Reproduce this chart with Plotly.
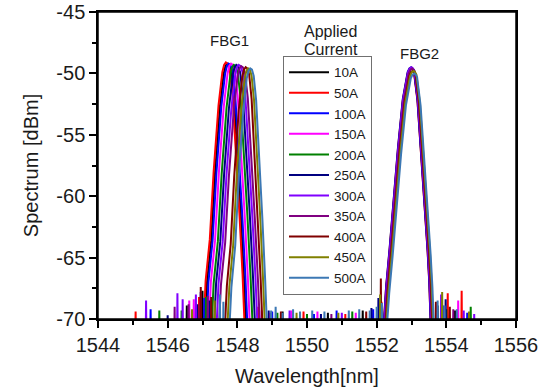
import plotly.graph_objects as go

currents = ["10A", "50A", "100A", "150A", "200A", "250A", "300A", "350A", "400A", "450A", "500A"]
colors = ["#000000", "#FF0000", "#0000FF", "#FF00FF", "#008000", "#000080",
          "#8000FF", "#800080", "#800000", "#808000", "#3C78B4"]

x_tickvals = [1544, 1546, 1548, 1550, 1552, 1554, 1556]
x_ticktext = ["1544", "1546", "1548", "1550", "1552", "1554", "1556"]
y_tickvals = [-70, -65, -60, -55, -50, -45]
y_ticktext = ["-70", "-65", "-60", "-55", "-50", "-45"]

# ---- FBG1 reflection peaks (wavelength nm, power dBm) ----
fbg1_wl_10A = [1547.05, 1547.13, 1547.25, 1547.36, 1547.50, 1547.61, 1547.66, 1547.71, 1547.76, 1547.82, 1547.90, 1548.00, 1548.10, 1548.19, 1548.27]
fbg1_db_10A = [-72, -67.0, -63.6, -58.1, -52.7, -50.0, -49.4, -49.2, -49.3, -49.8, -51.8, -56.5, -61.5, -66.5, -72]
fbg1_wl_50A = [1547.01, 1547.09, 1547.21, 1547.32, 1547.46, 1547.57, 1547.62, 1547.67, 1547.72, 1547.78, 1547.86, 1547.96, 1548.06, 1548.15, 1548.23]
fbg1_db_50A = [-72, -66.9, -63.5, -58.0, -52.6, -49.9, -49.3, -49.1, -49.2, -49.7, -51.7, -56.4, -61.4, -66.4, -72]
fbg1_wl_100A = [1547.09, 1547.17, 1547.29, 1547.40, 1547.54, 1547.65, 1547.70, 1547.75, 1547.80, 1547.86, 1547.94, 1548.04, 1548.14, 1548.23, 1548.31]
fbg1_db_100A = [-72, -67.0, -63.6, -58.1, -52.7, -50.0, -49.4, -49.2, -49.3, -49.8, -51.8, -56.5, -61.5, -66.5, -72]
fbg1_wl_150A = [1547.16, 1547.24, 1547.36, 1547.47, 1547.61, 1547.72, 1547.77, 1547.82, 1547.87, 1547.93, 1548.01, 1548.11, 1548.21, 1548.30, 1548.38]
fbg1_db_150A = [-72, -67.0, -63.6, -58.1, -52.7, -50.0, -49.4, -49.2, -49.3, -49.8, -51.8, -56.5, -61.5, -66.5, -72]
fbg1_wl_200A = [1547.24, 1547.32, 1547.44, 1547.55, 1547.69, 1547.80, 1547.85, 1547.90, 1547.95, 1548.01, 1548.09, 1548.19, 1548.29, 1548.38, 1548.46]
fbg1_db_200A = [-72, -67.1, -63.7, -58.2, -52.8, -50.1, -49.5, -49.3, -49.4, -49.9, -51.9, -56.6, -61.6, -66.6, -72]
fbg1_wl_250A = [1547.31, 1547.39, 1547.51, 1547.62, 1547.76, 1547.87, 1547.92, 1547.97, 1548.02, 1548.08, 1548.16, 1548.26, 1548.36, 1548.45, 1548.53]
fbg1_db_250A = [-72, -67.1, -63.7, -58.2, -52.8, -50.1, -49.5, -49.3, -49.4, -49.9, -51.9, -56.6, -61.6, -66.6, -72]
fbg1_wl_300A = [1547.38, 1547.46, 1547.58, 1547.69, 1547.83, 1547.94, 1547.99, 1548.04, 1548.09, 1548.15, 1548.23, 1548.33, 1548.43, 1548.52, 1548.60]
fbg1_db_300A = [-72, -67.1, -63.7, -58.2, -52.8, -50.1, -49.5, -49.3, -49.4, -49.9, -51.9, -56.6, -61.6, -66.6, -72]
fbg1_wl_350A = [1547.45, 1547.53, 1547.65, 1547.76, 1547.90, 1548.01, 1548.06, 1548.11, 1548.16, 1548.22, 1548.30, 1548.40, 1548.50, 1548.59, 1548.67]
fbg1_db_350A = [-72, -67.2, -63.8, -58.3, -52.9, -50.2, -49.6, -49.4, -49.5, -50.0, -52.0, -56.7, -61.7, -66.7, -72]
fbg1_wl_400A = [1547.62, 1547.70, 1547.81, 1547.91, 1548.04, 1548.14, 1548.19, 1548.24, 1548.29, 1548.34, 1548.41, 1548.50, 1548.59, 1548.67, 1548.74]
fbg1_db_400A = [-72, -67.3, -63.9, -58.4, -53.0, -50.3, -49.7, -49.5, -49.6, -50.1, -52.1, -56.8, -61.8, -66.8, -72]
fbg1_wl_450A = [1547.69, 1547.77, 1547.88, 1547.98, 1548.11, 1548.21, 1548.26, 1548.31, 1548.36, 1548.41, 1548.48, 1548.57, 1548.66, 1548.74, 1548.81]
fbg1_db_450A = [-72, -67.4, -64.0, -58.5, -53.1, -50.4, -49.8, -49.6, -49.7, -50.2, -52.2, -56.9, -61.9, -66.9, -72]
fbg1_wl_500A = [1547.75, 1547.83, 1547.94, 1548.04, 1548.17, 1548.27, 1548.32, 1548.37, 1548.42, 1548.47, 1548.54, 1548.63, 1548.72, 1548.80, 1548.87]
fbg1_db_500A = [-72, -67.4, -64.0, -58.5, -53.1, -50.4, -49.8, -49.6, -49.7, -50.2, -52.2, -56.9, -61.9, -66.9, -72]

# ---- FBG2 reflection peaks ----
fbg2_wl_10A = [1552.19, 1552.29, 1552.39, 1552.51, 1552.63, 1552.77, 1552.91, 1552.96, 1553.01, 1553.05, 1553.09, 1553.19, 1553.29, 1553.39, 1553.48, 1553.53, 1553.59]
fbg2_db_10A = [-72, -67.5, -64.4, -60.3, -56.2, -52.2, -50.0, -49.7, -49.6, -49.7, -49.9, -52.2, -56.2, -60.3, -64.4, -67.0, -72]
fbg2_wl_50A = [1552.17, 1552.27, 1552.37, 1552.49, 1552.61, 1552.75, 1552.89, 1552.94, 1552.99, 1553.03, 1553.07, 1553.17, 1553.27, 1553.37, 1553.46, 1553.51, 1553.57]
fbg2_db_50A = [-72, -67.5, -64.4, -60.3, -56.2, -52.2, -50.0, -49.7, -49.6, -49.7, -49.9, -52.2, -56.2, -60.3, -64.4, -67.0, -72]
fbg2_wl_100A = [1552.18, 1552.28, 1552.38, 1552.50, 1552.62, 1552.76, 1552.90, 1552.95, 1553.00, 1553.04, 1553.08, 1553.18, 1553.28, 1553.38, 1553.47, 1553.52, 1553.58]
fbg2_db_100A = [-72, -67.5, -64.4, -60.3, -56.2, -52.2, -50.0, -49.7, -49.6, -49.7, -49.9, -52.2, -56.2, -60.3, -64.4, -67.0, -72]
fbg2_wl_150A = [1552.19, 1552.29, 1552.39, 1552.51, 1552.63, 1552.77, 1552.91, 1552.96, 1553.01, 1553.05, 1553.09, 1553.19, 1553.29, 1553.39, 1553.48, 1553.53, 1553.59]
fbg2_db_150A = [-72, -67.5, -64.4, -60.3, -56.2, -52.2, -50.0, -49.7, -49.6, -49.7, -49.9, -52.2, -56.2, -60.3, -64.4, -67.0, -72]
fbg2_wl_200A = [1552.20, 1552.30, 1552.40, 1552.52, 1552.64, 1552.78, 1552.92, 1552.97, 1553.02, 1553.06, 1553.10, 1553.20, 1553.30, 1553.40, 1553.49, 1553.54, 1553.60]
fbg2_db_200A = [-72, -67.5, -64.4, -60.3, -56.2, -52.2, -50.0, -49.7, -49.6, -49.7, -49.9, -52.2, -56.2, -60.3, -64.4, -67.0, -72]
fbg2_wl_250A = [1552.17, 1552.27, 1552.37, 1552.49, 1552.61, 1552.75, 1552.89, 1552.94, 1552.99, 1553.03, 1553.07, 1553.17, 1553.27, 1553.37, 1553.46, 1553.51, 1553.57]
fbg2_db_250A = [-72, -67.4, -64.3, -60.2, -56.1, -52.1, -49.9, -49.6, -49.5, -49.6, -49.8, -52.1, -56.1, -60.2, -64.3, -66.9, -72]
fbg2_wl_300A = [1552.18, 1552.28, 1552.38, 1552.50, 1552.62, 1552.76, 1552.90, 1552.95, 1553.00, 1553.04, 1553.08, 1553.18, 1553.28, 1553.38, 1553.47, 1553.52, 1553.58]
fbg2_db_300A = [-72, -67.4, -64.3, -60.2, -56.1, -52.1, -49.9, -49.6, -49.5, -49.6, -49.8, -52.1, -56.1, -60.2, -64.3, -66.9, -72]
fbg2_wl_350A = [1552.20, 1552.30, 1552.40, 1552.52, 1552.64, 1552.78, 1552.92, 1552.97, 1553.02, 1553.06, 1553.10, 1553.20, 1553.30, 1553.40, 1553.49, 1553.54, 1553.60]
fbg2_db_350A = [-72, -67.5, -64.4, -60.3, -56.2, -52.2, -50.0, -49.7, -49.6, -49.7, -49.9, -52.2, -56.2, -60.3, -64.4, -67.0, -72]
fbg2_wl_400A = [1552.22, 1552.32, 1552.42, 1552.54, 1552.66, 1552.80, 1552.94, 1552.99, 1553.04, 1553.08, 1553.12, 1553.22, 1553.32, 1553.42, 1553.51, 1553.56, 1553.62]
fbg2_db_400A = [-72, -67.7, -64.6, -60.5, -56.4, -52.4, -50.2, -49.9, -49.8, -49.9, -50.1, -52.4, -56.4, -60.5, -64.6, -67.2, -72]
fbg2_wl_450A = [1552.24, 1552.34, 1552.44, 1552.56, 1552.68, 1552.82, 1552.96, 1553.01, 1553.06, 1553.10, 1553.14, 1553.24, 1553.34, 1553.44, 1553.53, 1553.58, 1553.64]
fbg2_db_450A = [-72, -67.7, -64.6, -60.5, -56.4, -52.4, -50.2, -49.9, -49.8, -49.9, -50.1, -52.4, -56.4, -60.5, -64.6, -67.2, -72]
fbg2_wl_500A = [1552.26, 1552.36, 1552.46, 1552.58, 1552.70, 1552.84, 1552.98, 1553.03, 1553.08, 1553.12, 1553.16, 1553.26, 1553.36, 1553.46, 1553.55, 1553.60, 1553.66]
fbg2_db_500A = [-72, -67.9, -64.8, -60.7, -56.6, -52.6, -50.4, -50.1, -50.0, -50.1, -50.3, -52.6, -56.6, -60.7, -64.8, -67.4, -72]

# ---- noise-floor spikes (wavelength nm, spike top dBm) ----
spike_wl_10A = [1546.55, 1547.00, 1549.30, 1550.60, 1551.60, 1552.10, 1553.75, 1554.25]
spike_db_10A = [-68.9, -67.7, -69.4, -69.5, -69.3, -68.8, -68.9, -69.3]
spike_wl_50A = [1545.08, 1546.90, 1548.60, 1549.90, 1551.10, 1552.14, 1554.04, 1554.44]
spike_db_50A = [-69.4, -68.2, -69.0, -69.4, -69.6, -68.6, -67.9, -67.7]
spike_wl_100A = [1545.51, 1546.95, 1547.05, 1549.00, 1550.20, 1550.85, 1551.90, 1553.90, 1554.60]
spike_db_100A = [-69.2, -67.8, -68.3, -69.4, -69.6, -69.3, -69.2, -68.9, -69.5]
spike_wl_150A = [1546.62, 1546.75, 1548.70, 1549.55, 1550.30, 1551.40, 1554.34]
spike_db_150A = [-68.5, -68.4, -69.3, -69.3, -69.4, -69.5, -68.5]
spike_wl_200A = [1545.76, 1546.40, 1547.10, 1549.15, 1550.00, 1551.30, 1554.00, 1554.70]
spike_db_200A = [-69.3, -69.3, -68.2, -69.5, -69.6, -69.4, -69.2, -69.0]
spike_wl_250A = [1546.00, 1546.85, 1547.20, 1548.90, 1550.40, 1551.85, 1552.05, 1553.98]
spike_db_250A = [-69.7, -68.8, -68.5, -69.3, -69.6, -69.1, -68.3, -68.4]
spike_wl_300A = [1545.38, 1546.28, 1546.43, 1546.81, 1549.50, 1551.00, 1553.85, 1554.50, 1554.80]
spike_db_300A = [-68.5, -67.9, -68.4, -68.0, -69.3, -69.5, -68.0, -69.3, -69.6]
spike_wl_350A = [1546.20, 1546.60, 1547.15, 1548.95, 1550.70, 1552.12, 1554.20]
spike_db_350A = [-69.0, -68.8, -68.1, -69.5, -69.6, -68.9, -69.2]
spike_wl_400A = [1546.95, 1547.25, 1549.25, 1551.70, 1552.12, 1553.70, 1554.10]
spike_db_400A = [-67.4, -68.2, -69.4, -69.4, -66.7, -68.6, -69.0]
spike_wl_450A = [1546.70, 1547.35, 1549.70, 1550.90, 1552.10, 1553.88, 1554.65]
spike_db_450A = [-69.2, -68.5, -69.5, -69.5, -68.0, -67.8, -69.4]
spike_wl_500A = [1547.50, 1547.60, 1548.97, 1549.10, 1549.30, 1549.60, 1549.80, 1550.15, 1550.50,
                 1551.20, 1551.50, 1551.80, 1552.00, 1552.15, 1553.75, 1553.95, 1554.30]
spike_db_500A = [-68.0, -68.6, -69.3, -69.0, -69.5, -69.2, -69.4, -69.3, -69.4,
                 -69.3, -69.2, -69.3, -69.0, -68.7, -68.5, -68.9, -69.2]

FLOOR = -72

fbg1_wl = [fbg1_wl_10A, fbg1_wl_50A, fbg1_wl_100A, fbg1_wl_150A, fbg1_wl_200A, fbg1_wl_250A,
           fbg1_wl_300A, fbg1_wl_350A, fbg1_wl_400A, fbg1_wl_450A, fbg1_wl_500A]
fbg1_db = [fbg1_db_10A, fbg1_db_50A, fbg1_db_100A, fbg1_db_150A, fbg1_db_200A, fbg1_db_250A,
           fbg1_db_300A, fbg1_db_350A, fbg1_db_400A, fbg1_db_450A, fbg1_db_500A]
fbg2_wl = [fbg2_wl_10A, fbg2_wl_50A, fbg2_wl_100A, fbg2_wl_150A, fbg2_wl_200A, fbg2_wl_250A,
           fbg2_wl_300A, fbg2_wl_350A, fbg2_wl_400A, fbg2_wl_450A, fbg2_wl_500A]
fbg2_db = [fbg2_db_10A, fbg2_db_50A, fbg2_db_100A, fbg2_db_150A, fbg2_db_200A, fbg2_db_250A,
           fbg2_db_300A, fbg2_db_350A, fbg2_db_400A, fbg2_db_450A, fbg2_db_500A]
spike_wl = [spike_wl_10A, spike_wl_50A, spike_wl_100A, spike_wl_150A, spike_wl_200A, spike_wl_250A,
            spike_wl_300A, spike_wl_350A, spike_wl_400A, spike_wl_450A, spike_wl_500A]
spike_db = [spike_db_10A, spike_db_50A, spike_db_100A, spike_db_150A, spike_db_200A, spike_db_250A,
            spike_db_300A, spike_db_350A, spike_db_400A, spike_db_450A, spike_db_500A]

FONT = "Liberation Sans, Arial, sans-serif"
TXT = "#1a1a1a"

fig = go.Figure()
for i, name in enumerate(currents):
    pts = list(zip(fbg1_wl[i], fbg1_db[i])) + list(zip(fbg2_wl[i], fbg2_db[i]))
    for w, d in zip(spike_wl[i], spike_db[i]):
        pts += [(w - 0.012, FLOOR), (w, d), (w + 0.012, FLOOR)]
    pts.sort(key=lambda p: p[0])
    fig.add_trace(go.Scatter(
        x=[p[0] for p in pts], y=[p[1] for p in pts], mode="lines", name=name,
        line=dict(color=colors[i], width=2), hoverinfo="skip"))

axis_common = dict(
    showline=True, linecolor="black", linewidth=1.5, mirror=True,
    ticks="outside", ticklen=7, tickwidth=1.5, tickcolor="black",
    showgrid=False, zeroline=False, automargin=False, ticklabeloverflow="allow",
    tickfont=dict(family=FONT, size=20, color=TXT),
)

fig.update_xaxes(range=[1544, 1556], tickvals=x_tickvals, ticktext=x_ticktext,
                 minor=dict(dtick=1, tick0=1544, ticklen=4, tickwidth=1.5, tickcolor="black", ticks="outside"),
                 title=dict(text="Wavelength[nm]", font=dict(family=FONT, size=20, color=TXT), standoff=14),
                 **axis_common)
fig.update_yaxes(range=[-70, -45], tickvals=y_tickvals, ticktext=y_ticktext,
                 minor=dict(dtick=2.5, tick0=-70, ticklen=4, tickwidth=1.5, tickcolor="black", ticks="outside"),
                 title=dict(text="Spectrum [dBm]", font=dict(family=FONT, size=20, color=TXT), standoff=12),
                 **axis_common)

# plot frame (top / right sides)
fig.add_shape(type="rect", xref="paper", yref="paper", x0=0, x1=1, y0=0, y1=1,
              line=dict(color="black", width=1.5), fillcolor="rgba(0,0,0,0)", layer="above")

fig.add_annotation(x=1547.78, y=-47.28, text="FBG1", showarrow=False,
                   xanchor="center", yanchor="middle",
                   font=dict(family=FONT, size=15, color=TXT))
fig.add_annotation(x=1553.22, y=-48.34, text="FBG2", showarrow=False,
                   xanchor="center", yanchor="middle",
                   font=dict(family=FONT, size=15, color=TXT))
fig.add_annotation(x=0.557, y=0.937, xref="paper", yref="paper", text="Applied", showarrow=False,
                   xanchor="center", yanchor="middle",
                   font=dict(family=FONT, size=16, color=TXT))
fig.add_annotation(x=0.557, y=0.877, xref="paper", yref="paper", text="Current", showarrow=False,
                   xanchor="center", yanchor="middle",
                   font=dict(family=FONT, size=16, color=TXT))

fig.update_layout(
    width=548, height=391,
    margin=dict(l=98, r=32, t=12, b=72, autoexpand=False),
    paper_bgcolor="white", plot_bgcolor="white",
    showlegend=True, hovermode=False,
    legend=dict(x=0.4426, y=0.857, xanchor="left", yanchor="top",
                bgcolor="rgba(255,255,255,1)", bordercolor="#707070", borderwidth=1,
                font=dict(family=FONT, size=13.5, color=TXT),
                tracegroupgap=0, itemwidth=40),
)

# remove the browser's default page margin so the figure fills the window exactly
fig.write_html("out.html",
               config={"displayModeBar": False},
               post_script="document.body.style.margin='0';document.body.style.overflow='hidden';")
